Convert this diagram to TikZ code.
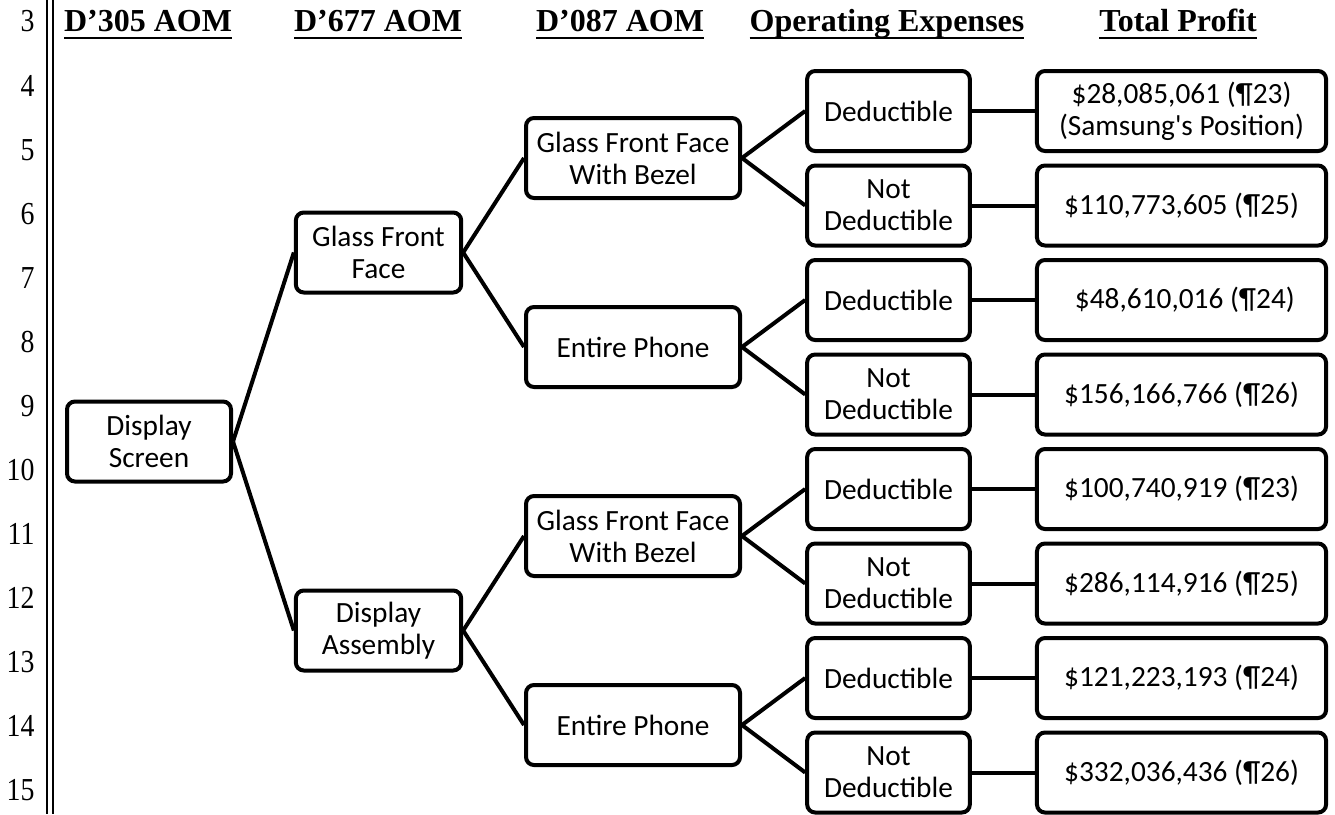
\documentclass[tikz,border=0pt]{standalone}
\usepackage{fontspec}
\setmainfont{Liberation Serif}
\newfontfamily\dmgfont{Carlito}[Ligatures=TeXOff]
\definecolor{dmgInk}{HTML}{000000}
\newcommand\dmghead[1]{\sbox0{#1}\rlap{\usebox0}\rule[-2.6pt]{\wd0}{0.8pt}}
\newcommand\dmgnum[1]{\scalebox{0.87}[1]{#1}}
\tikzset{
  dmg rule/.style={draw=dmgInk, line width=0.5pt},
  dmg link/.style={draw=dmgInk, line width=1.5pt},
  dmg box/.style={draw=dmgInk, line width=1.5pt, rounded corners=3pt, minimum height=30pt, inner sep=1pt, align=center, font=\dmgfont\fontsize{11}{12}\selectfont},
  dmg head/.style={anchor=base, font=\fontsize{12}{14}\selectfont\bfseries},
  dmg num/.style={anchor=base east, inner xsep=0pt, font=\fontsize{12}{14}\selectfont},
}
\begin{document}
\begin{tikzpicture}[x=0.375pt,y=-0.375pt]
\useasboundingbox(0,0)rectangle(1335,814);
\draw[dmg rule](47,0)--(47,814);\draw[dmg rule](53,0)--(53,814);
\foreach \n in {3,...,15}{\node[dmg num](n\n)at(35,{32+64*(\n-3)}){\dmgnum{\n}};}
\foreach \x/\t [count=\i] in {148/D'305 AOM,378/D'677 AOM,620/D'087 AOM,887/Operating Expenses,1178/Total Profit}{\node[dmg head](h\i)at(\x,32){\dmghead{\t}};}
% tree of boxes
\node[dmg box,minimum width=61.5pt](ds)at(149,441.5){Display\\Screen};
\node[dmg box,minimum width=62pt](gff)at(378.5,252.5){Glass Front\\Face};
\node[dmg box,minimum width=62pt](da)at(378.5,630.5){Display\\Assembly};
\foreach \y/\t [count=\j from 0] in {158/{Glass Front Face\\With Bezel},347/Entire Phone,536/{Glass Front Face\\With Bezel},725/Entire Phone}{\node[dmg box,minimum width=80.25pt](l3-\j)at(633,\y){\t};}
\foreach \k in {0,2,4,6}{\node[dmg box,minimum width=61pt](l4-\k)at(888.5,{111+94.5*\k}){Deductible};}
\foreach \k in {1,3,5,7}{\node[dmg box,minimum width=61pt](l4-\k)at(888.5,{111+94.5*\k}){Not\\Deductible};}
\foreach \v [count=\k from 0] in {{\$28,085,061 (¶23)\\(Samsung's Position)},{\$110,773,605 (¶25)},{\ \$48,610,016 (¶24)},{\$156,166,766 (¶26)},{\$100,740,919 (¶23)},{\$286,114,916 (¶25)},{\$121,223,193 (¶24)},{\$332,036,436 (¶26)}}{\node[dmg box,minimum width=108.4pt](l5-\k)at(1181.5,{111+94.5*\k}){\v};}
% connectors
\foreach \p/\c in {ds/gff,ds/da,gff/l3-0,gff/l3-1,da/l3-2,da/l3-3,l3-0/l4-0,l3-0/l4-1,l3-1/l4-2,l3-1/l4-3,l3-2/l4-4,l3-2/l4-5,l3-3/l4-6,l3-3/l4-7}{\draw[dmg link](\p.east)--(\c.west);}
\foreach \k in {0,...,7}{\draw[dmg link](l4-\k.east)--(l5-\k.west);}
\end{tikzpicture}
\end{document}
